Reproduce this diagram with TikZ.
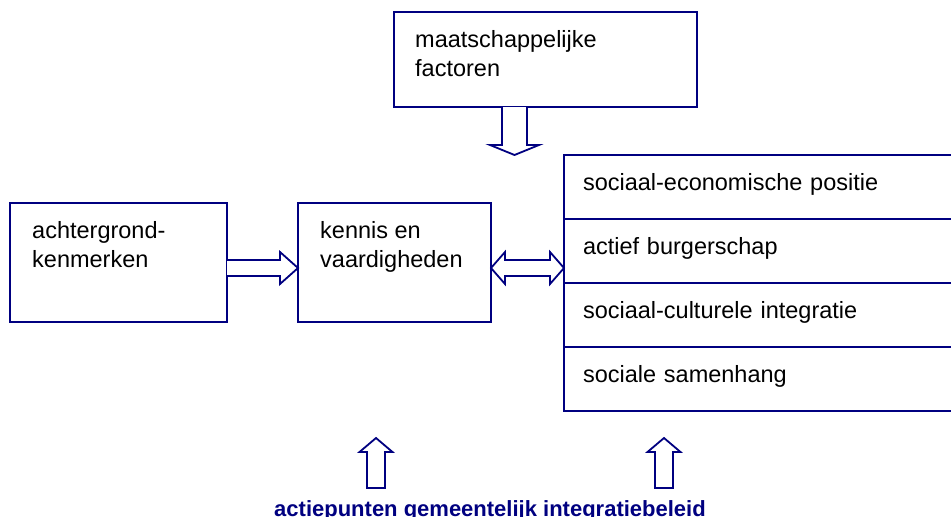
\documentclass[tikz,border=0pt]{standalone}
\usepackage{fontspec}
\setmainfont{Liberation Sans}
\usetikzlibrary{positioning,calc}
\definecolor{navy}{RGB}{0,0,128}
\tikzset{
  box/.style={draw=navy, line width=1.8pt, inner sep=0pt, outer sep=0pt, anchor=north west},
  txt/.style={anchor=base west, align=left, inner sep=0pt, font=\fontsize{23.5}{29}\selectfont},
  row/.style={box, minimum width=389pt, minimum height=64pt, text width=351pt, inner xsep=19pt,
    text height=17pt, text depth=11pt, align=left, font=\fontsize{23.5}{29}\selectfont},
  blk/.style={draw=navy, line width=1.8pt, line join=miter, fill=white}
}
\begin{document}
\begin{tikzpicture}[x=1pt,y=-1pt]
\useasboundingbox (0,0) rectangle (951,517);
% boxes (text anchored at the baseline of its second line)
\node[box, minimum width=303pt, minimum height=95pt] (maat) at (394,12) {};
\node[txt] (maat-t) at ($(maat.north west)+(21,64)$) {maatschappelijke\\factoren};
\node[box, minimum width=217pt, minimum height=119pt] (achter) at (10,203) {};
\node[txt] (achter-t) at ($(achter.north west)+(22,64)$) {achtergrond-\\kenmerken};
\node[box, minimum width=193pt, minimum height=119pt] (kennis) at (298,203) {};
\node[txt] (kennis-t) at ($(kennis.north west)+(22,64)$) {kennis en\\vaardigheden};
% right block
\node[row] (r1) at (564,155) {sociaal-economische positie};
\node[row, below=0pt of r1] (r2) {actief burgerschap};
\node[row, below=0pt of r2] (r3) {sociaal-culturele integratie};
\node[row, below=0pt of r3] (r4) {sociale samenhang};
% bottom label
\node[anchor=base, inner sep=0pt, text=navy, font=\fontsize{22}{26}\selectfont\bfseries] (beleid) at (490,516) {actiepunten gemeentelijk integratiebeleid};
% hollow arrows
\coordinate (d0) at ($(maat.south west)+(120.5,0)$);
\coordinate (d1) at (d0 |- r1.north);
\draw[blk] ($(d0)+(-12.5,0)$) |- ($(d1)+(-24.5,-10)$) -- (d1) -- ($(d1)+(24.5,-10)$) -| ($(d0)+(12.5,0)$);
\coordinate (a0) at ($(achter.north east)+(0,65)$);
\coordinate (a1) at (a0 -| kennis.west);
\draw[blk] ($(a0)+(0,-8)$) -| ($(a1)+(-18,-16)$) -- (a1) -- ($(a1)+(-18,16)$) |- ($(a0)+(0,8)$);
\coordinate (b0) at (a0 -| kennis.east);
\coordinate (b1) at (a0 -| r2.west);
\draw[blk] (b0) -- ($(b0)+(14,-16)$) |- ($(b1)+(-14,-8)$) -- ($(b1)+(-14,-16)$) -- (b1)
  -- ($(b1)+(-14,16)$) |- ($(b0)+(14,8)$) -- ($(b0)+(14,16)$) -- cycle;
\coordinate (u1) at (376,488);
\coordinate (u2) at (664,488);
\foreach \u in {u1,u2}
\draw[blk] ($(\u)+(-9,0)$) |- ($(\u)+(-16.5,-36)$) -- ($(\u)+(0,-50)$) -- ($(\u)+(16.5,-36)$) -| ($(\u)+(9,0)$) -- cycle;
\end{tikzpicture}
\end{document}
